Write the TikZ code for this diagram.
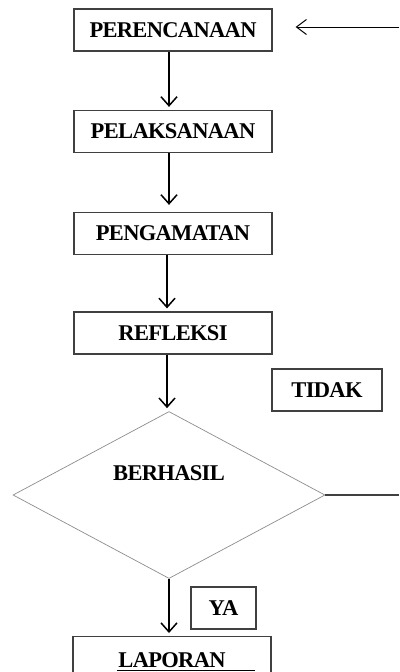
\documentclass[tikz,border=0pt]{standalone}
\usepackage{fontspec}
\setmainfont{Liberation Serif}
\usetikzlibrary{arrows.meta,shapes.geometric}
\newcommand{\boxfont}{\fontsize{22.5}{25}\selectfont\bfseries\addfontfeature{LetterSpace=-3}}
\begin{document}
\begin{tikzpicture}[x=1pt,y=-1pt,
  stepbox/.style={draw=black!75, line width=1.3pt, minimum width=198pt, minimum height=42pt, inner sep=0pt, font=\boxfont},
  smallbox/.style={draw=black!75, line width=1.3pt, minimum height=42pt, inner sep=0pt, font=\boxfont},
  arr/.style={line width=1.6pt, -{Straight Barb[length=9pt,width=16pt,line width=1.5pt]}, shorten >=3pt},
  thinarr/.style={line width=0.9pt, -{Straight Barb[length=10pt,width=15pt,line width=1pt]}},
  txt/.style={font=\boxfont, inner sep=0pt}
]
\useasboundingbox (0,0) rectangle (399,672);
\clip (0,0) rectangle (399,672);

\node[stepbox] (per) at (173,30) {PERENCANAAN};
\node[stepbox] (pel) at (173,131.5) {PELAKSANAAN};
\node[stepbox] (peng) at (173,233.5) {PENGAMATAN};
\node[stepbox] (ref) at (173,333) {REFLEKSI};
\node[smallbox, minimum width=110pt] (tidak) at (327,390) {TIDAK};
\node[draw=black!45, line width=0.7pt, shape=diamond, minimum width=312pt, minimum height=167pt, inner sep=0pt] (dec) at (169,495) {};
\node[txt] (berhasil) at (169,473) {BERHASIL};
\node[smallbox, minimum width=65pt] (ya) at (223.5,608) {YA};
\node[draw=black!75, line width=1.3pt, minimum width=198pt, inner sep=0pt, text height=31pt, text depth=40pt, anchor=north, font=\boxfont] (lap) at (172,636) {LAPORAN};

\coordinate (inR) at (399,27);
\coordinate (outR) at (399,495);

\draw[arr] ([xshift=-4pt]per.south) -- ([xshift=-4pt]pel.north);
\draw[arr, shorten >=7pt] ([xshift=-4pt]pel.south) -- ([xshift=-4pt]peng.north);
\draw[arr] ([xshift=-6pt]peng.south) -- ([xshift=-6pt]peng.south |- ref.north);
\draw[arr] ([xshift=-6pt]ref.south) -- ([xshift=-6pt]ref.south |- dec.north);
\draw[arr] (dec.south) -- (dec.south |- lap.north);
\draw[thinarr, shorten >=23pt] (inR) -- (inR -| per.east);
\draw[line width=1.3pt, black!75] (dec.east) -- (outR);
\draw[line width=1.4pt] ([xshift=-55pt,yshift=-3pt]lap.base) -- ([xshift=83pt,yshift=-3pt]lap.base);
\end{tikzpicture}
\end{document}
